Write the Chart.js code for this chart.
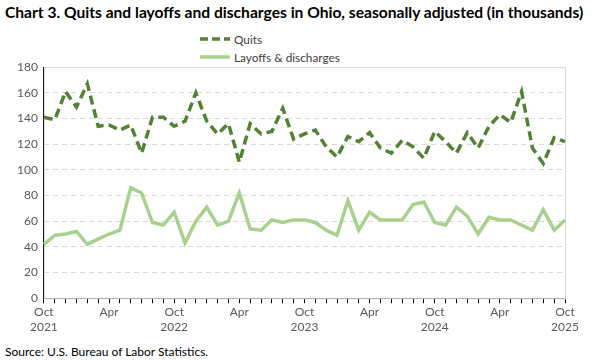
<!DOCTYPE html>
<html>
<head>
<meta charset="utf-8">
<script src="https://cdn.jsdelivr.net/npm/chart.js@4"></script>
<style>
  body { margin: 0; background: #fff; font-family: Lato, "Open Sans", sans-serif; }
  #wrap { position: relative; width: 600px; height: 360px; overflow: hidden; }
  #title { position: absolute; left: 5px; top: 3px; font-weight: bold; font-size: 15.6px; color: #000; white-space: nowrap; }
  #legend { position: absolute; left: 200px; top: 30px; font-size: 11.8px; color: #404040; }
  #legend div { height: 18px; display: flex; align-items: center; }
  #legend svg { margin-right: 4px; }
  #chartBox { position: absolute; left: 0; top: 54px; width: 600px; height: 282px; }
  #source { position: absolute; left: 5px; top: 344px; font-size: 12px; color: #000; }
</style>
</head>
<body>
<div id="wrap">
  <div id="title">Chart 3. Quits and layoffs and discharges in Ohio, seasonally adjusted (in thousands)</div>
  <div id="legend">
    <div><svg width="30" height="6"><line x1="0" y1="3" x2="30" y2="3" stroke="#548235" stroke-width="3.5" stroke-dasharray="8,4"/></svg>Quits</div>
    <div><svg width="30" height="6"><line x1="0" y1="3" x2="30" y2="3" stroke="#A9D18E" stroke-width="3.5"/></svg>Layoffs &amp; discharges</div>
  </div>
  <div id="chartBox"><canvas id="chart"></canvas></div>
  <div id="source">Source: U.S. Bureau of Labor Statistics.</div>
</div>
<script>
// months Oct 2021 .. Oct 2025
const months = ['Oct','Nov','Dec','Jan','Feb','Mar','Apr','May','Jun','Jul','Aug','Sep',
                'Oct','Nov','Dec','Jan','Feb','Mar','Apr','May','Jun','Jul','Aug','Sep',
                'Oct','Nov','Dec','Jan','Feb','Mar','Apr','May','Jun','Jul','Aug','Sep',
                'Oct','Nov','Dec','Jan','Feb','Mar','Apr','May','Jun','Jul','Aug','Sep','Oct'];
const octYears = ['2021', '2022', '2023', '2024', '2025'];

const quits = [141, 139, 161, 149, 167, 134, 135, 131, 135, 113, 141, 141,
               134, 138, 160, 138, 128, 136, 106, 136, 128, 130, 148, 124,
               128, 131, 118, 110, 126, 122, 129, 117, 113, 123, 118, 109,
               130, 122, 113, 129, 117, 134, 143, 137, 161, 117, 105, 125, 122];
const layoffs = [42, 49, 50, 52, 42, 46, 50, 53, 86, 82, 59, 57,
                 67, 43, 60, 71, 57, 60, 82, 54, 53, 61, 59, 61,
                 61, 59, 53, 49, 76, 53, 67, 61, 61, 61, 73, 75,
                 59, 57, 71, 64, 50, 63, 61, 61, 57, 53, 69, 53, 61];

// only Oct and Apr get printed, Oct also carries the year
let yi = 0;
const labels = months.map(m => {
  if (m === 'Oct') return ['Oct', octYears[yi++]];
  if (m === 'Apr') return 'Apr';
  return '';
});

// light gray frame round the plot area (top/right)
const frame = {
  id: 'frame',
  beforeDatasetsDraw(chart) {
    const a = chart.chartArea, c = chart.ctx;
    c.save();
    c.strokeStyle = '#d9d9d9';
    c.lineWidth = 1;
    c.strokeRect(a.left + 0.5, a.top + 0.5, a.right - a.left, a.bottom - a.top);
    c.restore();
  }
};

const tickFont = { family: 'Lato, "Open Sans", sans-serif', size: 12 };

new Chart(document.getElementById('chart'), {
  type: 'line',
  data: {
    labels: labels,
    datasets: [{
      label: 'Quits',
      data: quits,
      borderColor: '#548235',
      borderWidth: 3.5,
      borderDash: [9, 5],
      pointRadius: 0,
      tension: 0
    }, {
      label: 'Layoffs & discharges',
      data: layoffs,
      borderColor: '#A9D18E',
      borderWidth: 3.5,
      pointRadius: 0,
      tension: 0
    }]
  },
  options: {
    responsive: true,
    maintainAspectRatio: false,
    animation: false,
    layout: { padding: { left: 11, right: 35, top: 4, bottom: 0 } },
    plugins: {
      legend: { display: false },
      tooltip: { enabled: false }
    },
    scales: {
      x: {
        offset: false,
        grid: { drawOnChartArea: false, drawTicks: true, tickLength: 5, color: '#000' },
        border: { color: '#000', width: 1 },
        ticks: { autoSkip: false, maxRotation: 0, padding: 2, color: '#595959', font: tickFont }
      },
      y: {
        min: 0,
        max: 180,
        ticks: { stepSize: 20, padding: 6, color: '#595959', font: tickFont },
        grid: { color: '#d9d9d9', drawTicks: false },
        border: { color: '#000', width: 1, dash: [5, 4] }
      }
    }
  },
  plugins: [frame]
});
</script>
</body>
</html>
